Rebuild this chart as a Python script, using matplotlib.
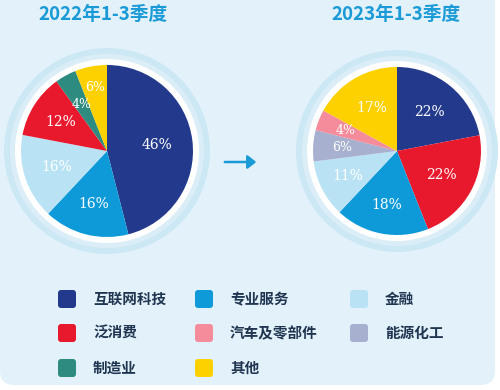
import matplotlib
matplotlib.use("Agg")
import matplotlib.pyplot as plt
import numpy as np
from matplotlib.patches import Circle, FancyBboxPatch, FancyArrowPatch

plt.rcParams['font.family'] = ['Noto Sans CJK SC', 'DejaVu Sans']

categories = ["互联网科技", "专业服务", "金融", "泛消费", "汽车及零部件", "能源化工", "制造业", "其他"]
colors = {"互联网科技": "#233a8c", "专业服务": "#0e9ad8", "金融": "#b9e3f5",
          "泛消费": "#e8182d", "汽车及零部件": "#f48c9b", "能源化工": "#a7b0cf",
          "制造业": "#2e8b7f", "其他": "#fdd100"}

title_2022 = "2022年1-3季度"
labels_2022 = ["互联网科技", "专业服务", "金融", "泛消费", "制造业", "其他"]
values_2022 = [46, 16, 16, 12, 4, 6]

title_2023 = "2023年1-3季度"
labels_2023 = ["互联网科技", "泛消费", "专业服务", "金融", "能源化工", "汽车及零部件", "其他"]
values_2023 = [22, 22, 18, 11, 6, 4, 17]

W, H = 500, 390
fig = plt.figure(figsize=(W / 100, H / 100), dpi=100)
fig.patch.set_facecolor("white")
ax = fig.add_axes([0, 0, 1, 1])

bg = FancyBboxPatch((0, 5), W - 5, H + 20, boxstyle="round,pad=0,rounding_size=14",
                    facecolor="#e3f2fa", edgecolor="none", zorder=0)
ax.add_patch(bg)

def draw_pie(cx, cy, r, labels, values, title, tx, dists):
    ax.add_patch(Circle((cx, cy), r + 17, facecolor="#cce8f5", edgecolor="none", zorder=1))
    ax.add_patch(Circle((cx, cy), r + 11, facecolor="#dbeef8", edgecolor="none", zorder=1))
    ax.add_patch(Circle((cx, cy), r + 6, facecolor="white", edgecolor="none", zorder=1))
    wedges, texts, autotexts = ax.pie(
        values, colors=[colors[l] for l in labels], startangle=90, counterclock=False,
        center=(cx, cy), radius=r, autopct="%d%%", pctdistance=0.62,
        textprops=dict(color="white", fontsize=10, family="DejaVu Serif"),
        wedgeprops=dict(linewidth=0), frame=True)
    for w in wedges:
        w.set_zorder(2)
    for w, t, v, d in zip(wedges, autotexts, values, dists):
        t.set_zorder(3)
        if v <= 6:
            t.set_fontsize(9)
        ang = np.deg2rad((w.theta1 + w.theta2) / 2)
        t.set_position((cx + d * r * np.cos(ang), cy + d * r * np.sin(ang)))
    ax.text(tx, H - 15, title, ha="center", va="center", fontsize=13.5,
            fontweight="bold", color="#1a9ad6", zorder=3)

draw_pie(107, H - 151, 86, labels_2022, values_2022, title_2022, 103,
         [0.58, 0.64, 0.62, 0.64, 0.62, 0.75])
draw_pie(397, H - 151, 84, labels_2023, values_2023, title_2023, 396,
         [0.6, 0.6, 0.66, 0.66, 0.66, 0.66, 0.6])

ax.set_xlim(0, W)
ax.set_ylim(0, H)
ax.set_aspect("equal")
ax.axis("off")

arrow = FancyArrowPatch((222, H - 162), (259, H - 162), arrowstyle="-|>,head_length=5,head_width=4",
                        color="#1a9ad6", lw=1.8, zorder=3)
ax.add_patch(arrow)

# legend
col_x = [58, 195, 350]
row_y = [299, 333, 368]
legend_order = ["互联网科技", "专业服务", "金融", "泛消费", "汽车及零部件", "能源化工", "制造业", "其他"]
for i, name in enumerate(legend_order):
    x = col_x[i % 3]
    y = H - row_y[i // 3]
    ax.add_patch(FancyBboxPatch((x, y - 9), 18, 18, boxstyle="round,pad=0,rounding_size=3",
                                facecolor=colors[name], edgecolor="none", zorder=3))
    ax.text(x + 35, y, name, ha="left", va="center", fontsize=10.5, fontweight="bold",
            color="#1f3550", zorder=3)

fig.savefig("out.png", dpi=100, facecolor=fig.get_facecolor())
